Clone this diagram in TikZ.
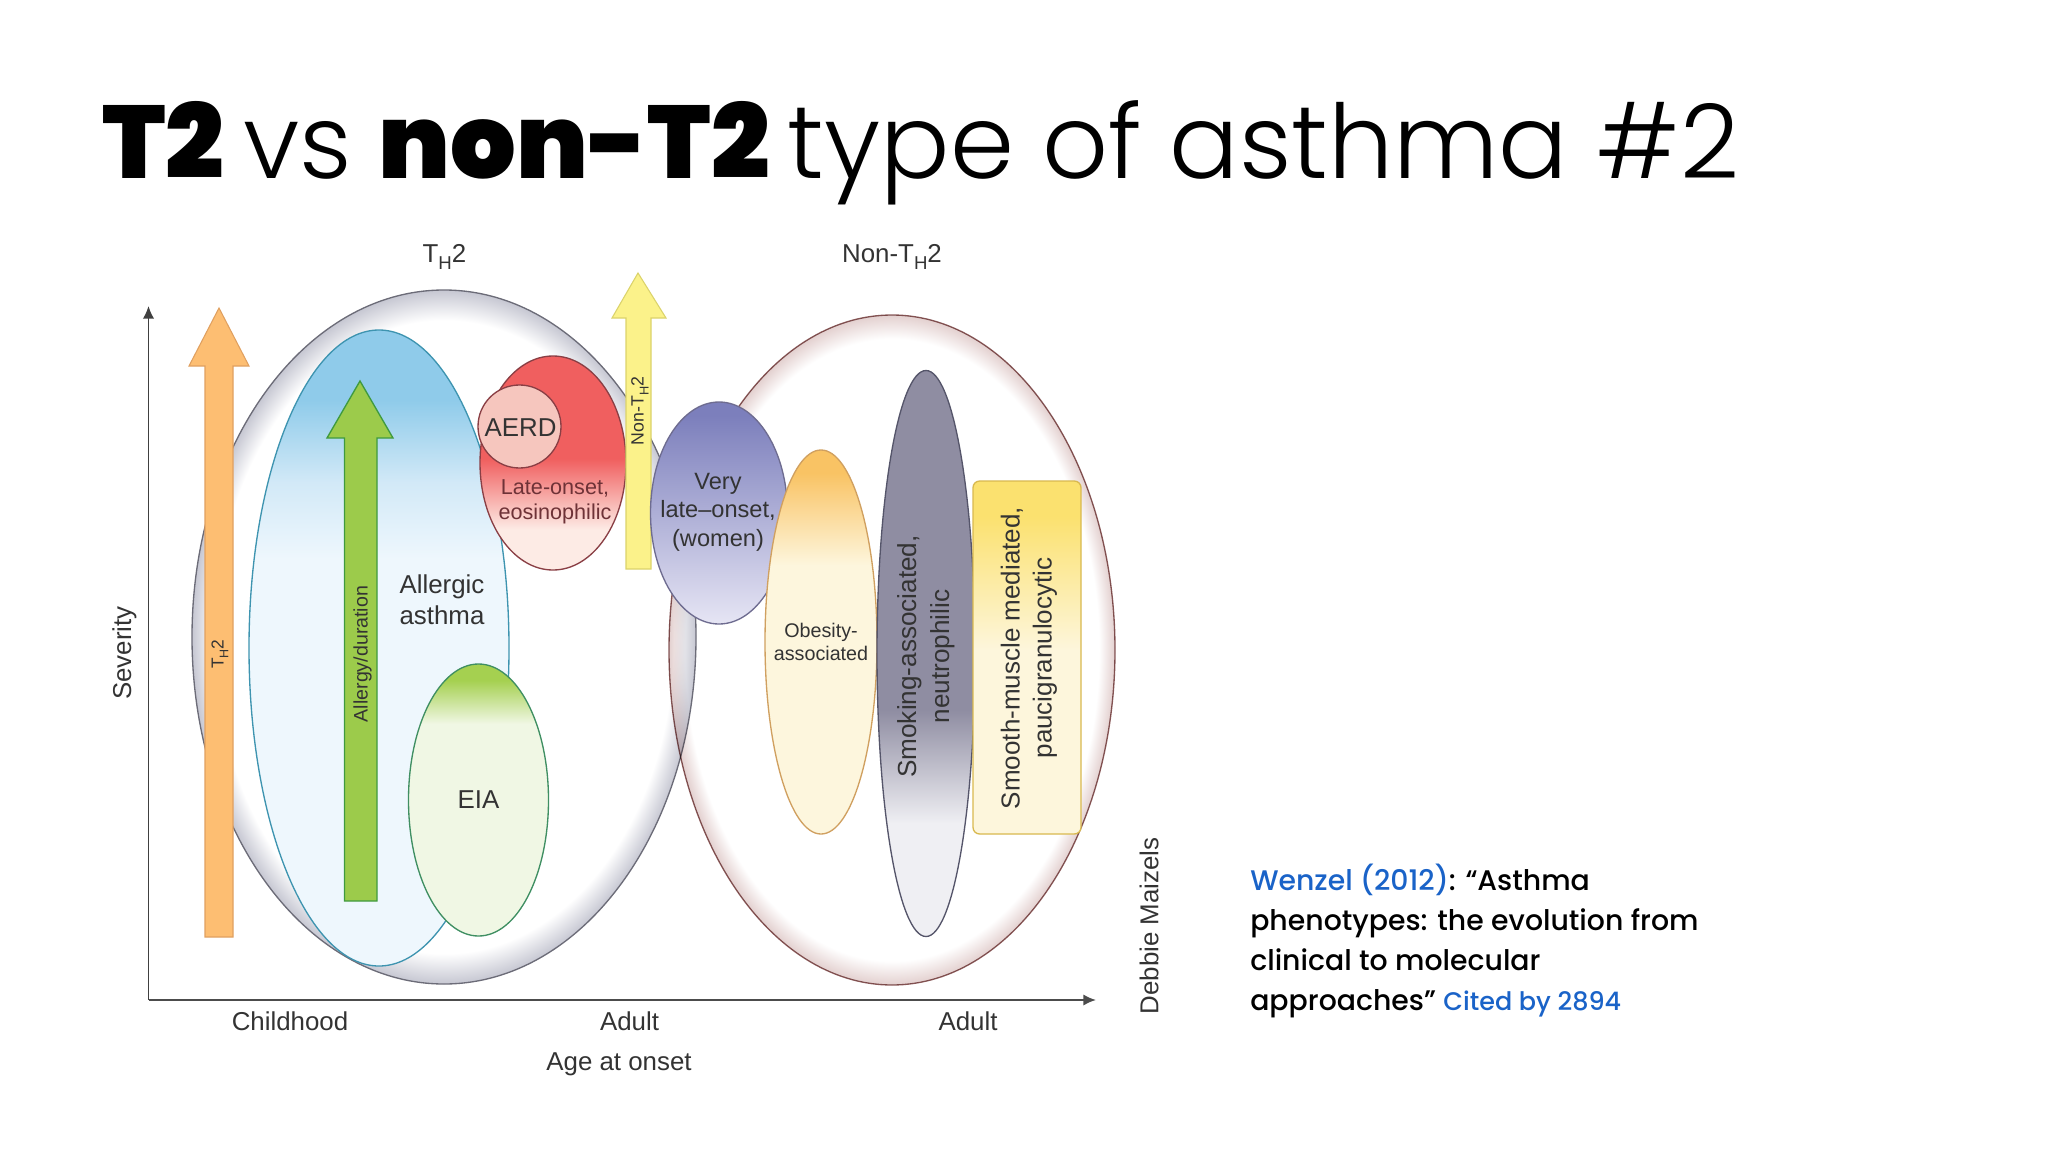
\documentclass[tikz,border=0pt]{standalone}
\usepackage{fontspec}
\setmainfont{Liberation Sans}
\newfontfamily\popblack{Poppins Black}
\newfontfamily\poplight{Poppins Light}
\newfontfamily\popmed{Poppins Medium}
\usetikzlibrary{shapes.geometric,arrows.meta}
\newcommand\subH{\raisebox{-.28em}{\scalebox{.72}{H}}}
\definecolor{inkgray}{HTML}{333333}
\definecolor{linkblue}{HTML}{1A63C8}
\definecolor{blulo}{HTML}{EEF7FD}\definecolor{blumid}{HTML}{D2E9F7}\definecolor{bluhi}{HTML}{8FCBEA}
\definecolor{redlo}{HTML}{FDEBE5}\definecolor{redhi}{HTML}{F05F5F}
\definecolor{grnlo}{HTML}{F0F7E4}\definecolor{grnhi}{HTML}{A5D050}
\definecolor{purlo}{HTML}{E6E5F4}\definecolor{purhi}{HTML}{7C7FBC}
\definecolor{obelo}{HTML}{FDF6DD}\definecolor{obehi}{HTML}{F9C364}
\definecolor{smolo}{HTML}{EFEFF3}\definecolor{smohi}{HTML}{8F8DA2}
\definecolor{rectlo}{HTML}{FDF6DC}\definecolor{recthi}{HTML}{FBE16F}
\definecolor{rimgray}{HTML}{C6C7D2}\definecolor{rimpink}{HTML}{E3D0CF}
\definecolor{orfill}{HTML}{FDBE72}\definecolor{ordraw}{HTML}{E0A060}
\definecolor{grfill}{HTML}{9CCB4B}\definecolor{grdraw}{HTML}{3F9A3F}
\definecolor{yefill}{HTML}{FBF28A}\definecolor{yedraw}{HTML}{DBD36B}
\definecolor{aerdfill}{HTML}{F6C6BE}
\definecolor{redline}{HTML}{8A3F45}\definecolor{pinkline}{HTML}{8A5A5A}
\definecolor{grayline}{HTML}{6C6C78}\definecolor{blueline}{HTML}{3E94B0}
\definecolor{greenline}{HTML}{3F8F62}\definecolor{purline}{HTML}{6E6C90}
\definecolor{obeline}{HTML}{D0A060}\definecolor{smoline}{HTML}{55556A}
\definecolor{rectline}{HTML}{D9B94F}
\pgfdeclareverticalshading{blueV}{100bp}{color(0bp)=(blulo);color(57bp)=(blulo);color(63bp)=(blumid);color(69.5bp)=(bluhi);color(100bp)=(bluhi)}
\pgfdeclareverticalshading{redV}{100bp}{color(0bp)=(redlo);color(34.5bp)=(redlo);color(51bp)=(redhi);color(100bp)=(redhi)}
\pgfdeclareverticalshading{grnV}{100bp}{color(0bp)=(grnlo);color(64bp)=(grnlo);color(72bp)=(grnhi);color(100bp)=(grnhi)}
\pgfdeclareverticalshading{purV}{100bp}{color(0bp)=(purlo);color(25bp)=(purlo);color(72bp)=(purhi);color(100bp)=(purhi)}
\pgfdeclareverticalshading{obeV}{100bp}{color(0bp)=(obelo);color(60bp)=(obelo);color(72bp)=(obehi);color(100bp)=(obehi)}
\pgfdeclareverticalshading{smoV}{100bp}{color(0bp)=(smolo);color(35bp)=(smolo);color(45bp)=(smohi);color(100bp)=(smohi)}
\pgfdeclareverticalshading{rectV}{100bp}{color(0bp)=(rectlo);color(51bp)=(rectlo);color(70bp)=(recthi);color(100bp)=(recthi)}
\pgfdeclareradialshading{rimG}{\pgfpoint{0bp}{0bp}}{color(0bp)=(white);color(22.8bp)=(white);color(25bp)=(rimgray);color(50bp)=(rimgray)}
\pgfdeclareradialshading{rimP}{\pgfpoint{0bp}{0bp}}{color(0bp)=(white);color(23.2bp)=(white);color(25bp)=(rimpink);color(50bp)=(rimpink)}
\tikzset{
  lab/.style={font=\fontsize{19.4}{23}\selectfont,text=inkgray,align=center,inner sep=0pt},
  latelab/.style={font=\fontsize{16.2}{18.8}\selectfont,text=redline!80!black,align=center,inner sep=0pt},
  small/.style={font=\fontsize{14.8}{17}\selectfont,text=inkgray,align=center,inner sep=0pt},
  side/.style={font=\fontsize{21.25}{24}\selectfont\popmed,text=black,anchor=base west,inner sep=0pt},
  heavy/.style={anchor=base west,inner sep=0pt,font=\fontsize{77.4}{90}\selectfont\popblack},
  lightword/.style={anchor=base west,inner sep=0pt,font=\fontsize{77.2}{90}\selectfont\poplight},
  blob/.style={line width=1pt,shade},
  axistip/.style={-{Latex[length=9.5pt,width=8.5pt]}},
}
\begin{document}
\begin{tikzpicture}[x=0.75pt,y=-0.75pt]
\useasboundingbox (0,0) rectangle (2048,1152);
% title
\node[heavy] (t1) at (102,179) {T2};
\node[lightword] (t2) at (243,179) {vs};
\node[heavy] (t3) at (378.5,179) {non-T2};
\node[lightword] (t4) at (787.5,179) {type of asthma \#2};
% axes
\coordinate (origin) at (148.5,1000);
\coordinate (ytop) at (148.5,306);
\coordinate (xend) at (1096,1000);
\draw[line width=1.1pt,draw=black!75,axistip] (origin) -- (ytop);
\draw[line width=1.5pt,draw=black!70,axistip] (origin) -- (xend);
% TH2 ellipse
\path[blob,shading=rimG,draw=grayline] (444,637) ellipse [x radius=252,y radius=347];
% Non-TH2 ellipse
\begin{scope}[blend mode=multiply]
\path[blob,shading=rimP,draw=pinkline] (892,650) ellipse [x radius=223,y radius=335];
\end{scope}
% TH2 arrow
\path[fill=orfill,draw=ordraw,line width=.8pt]
  (219,308) -- (249,366) -- (233,366) -- (233,937) -- (205,937) -- (205,366) -- (189,366) -- cycle;
% allergic
\path[blob,shading=blueV,draw=blueline] (379,648) ellipse [x radius=130,y radius=318];
% green arrow
\path[fill=grfill,draw=grdraw,line width=1pt]
  (360,381) -- (393,438) -- (377,438) -- (377,901) -- (344.5,901) -- (344.5,438) -- (327,438) -- cycle;
% EIA
\path[blob,shading=grnV,draw=greenline] (478.5,800) ellipse [x radius=70,y radius=136];
% late-onset
\path[blob,shading=redV,draw=redline] (553,463) ellipse [x radius=73,y radius=107];
\path[fill=aerdfill,draw=redline,line width=1pt] (519.5,426.5) circle [radius=41.5];
% yellow arrow
\path[fill=yefill,draw=yedraw,line width=.8pt]
  (638,273) -- (666,318) -- (651,318) -- (651,569) -- (626,569) -- (626,318) -- (612,318) -- cycle;
% very late
\path[blob,shading=purV,draw=purline] (719,513) ellipse [x radius=68.5,y radius=111];
% obesity
\path[blob,shading=obeV,draw=obeline] (821,642) ellipse [x radius=56,y radius=192];
% smoking
\path[blob,shading=smoV,draw=smoline] (926,653.5) ellipse [x radius=49,y radius=283];
% smooth-muscle
\path[blob,shading=rectV,draw=rectline,rounded corners=5pt] (973,481) rectangle (1081,834);
% labels
\node[lab] (th2top) at (444.5,257) {T\subH2};
\node[lab] (nonth2top) at (892,257) {Non-T\subH2};
\node[lab,rotate=90] (sev) at (124.5,653) {Severity};
\node[lab] (child) at (290,1021) {Childhood};
\node[lab] (adult1) at (629.5,1021) {Adult};
\node[lab] (adult2) at (968,1021) {Adult};
\node[lab] (age) at (619,1064.5) {Age at onset};
\node[lab,rotate=90] (debbie) at (1149,926) {Debbie Maizels};
\node[lab,font=\fontsize{13}{15}\selectfont,rotate=90] (th2in) at (220,654) {T\subH2};
\node[lab,font=\fontsize{14.7}{17}\selectfont,rotate=90] (allergy) at (362.5,654) {Allergy/duration};
\node[lab,font=\fontsize{13.3}{15}\selectfont,rotate=90] (nonin) at (640,411) {Non-T\subH2};
\node[lab] (allergic) at (442,600) {Allergic\\asthma};
\node[lab] (eia) at (478.5,800) {EIA};
\node[lab] (aerd) at (520.5,428) {AERD};
\node[latelab] (late) at (555,501.5) {Late-onset,\\eosinophilic};
\node[lab,font=\fontsize{17.7}{21.4}\selectfont] (very) at (718,512) {Very\\late--onset,\\(women)};
\node[small] (obes) at (821,642) {Obesity-\\associated};
\node[lab,rotate=90,font=\fontsize{19.6}{24.5}\selectfont] (smok) at (926,656.5) {Smoking-associated,\\neutrophilic};
\node[lab,rotate=90,font=\fontsize{19.5}{24}\selectfont] (smooth) at (1029,658) {Smooth-muscle mediated,\\paucigranulocytic};
% citation
\node[side] (c1) at (1250,890) {\textcolor{linkblue}{Wenzel (2012)}: “Asthma};
\node[side] (c2) at (1250,930) {phenotypes: the evolution from};
\node[side] (c3) at (1250,970) {clinical to molecular};
\node[side] (c4) at (1250,1010) {approaches” \textcolor{linkblue}{\fontsize{19.1}{22}\selectfont Cited by 2894}};
\end{tikzpicture}
\end{document}
